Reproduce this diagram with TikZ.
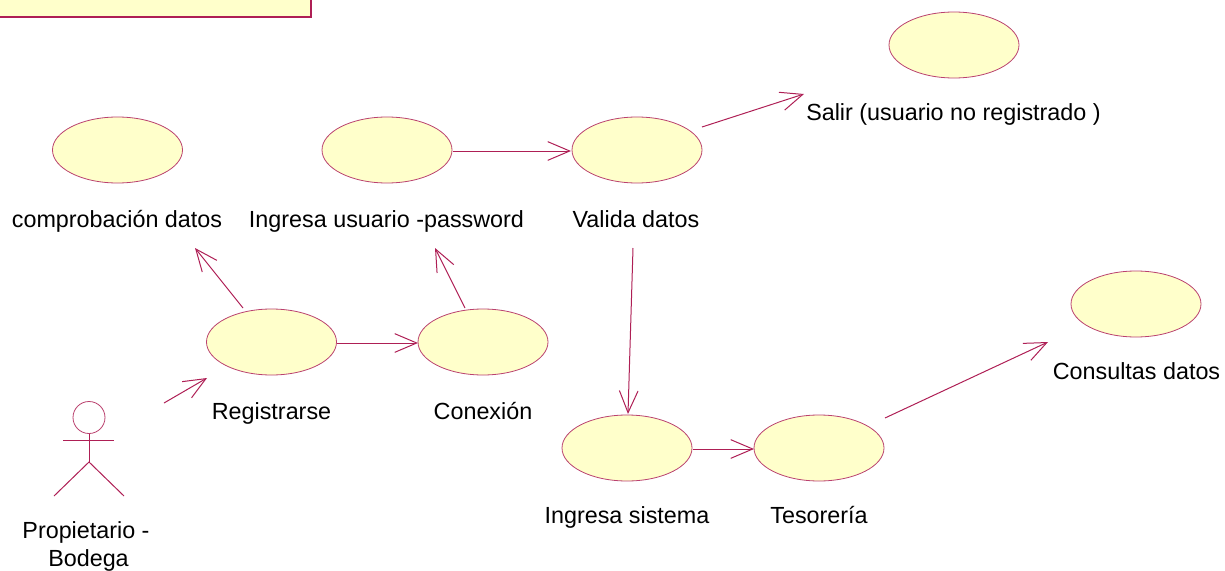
\documentclass[tikz,border=0pt]{standalone}
\usepackage{fontspec}
\setmainfont{Liberation Sans}
\usetikzlibrary{arrows.meta,shapes.geometric}
\definecolor{umlline}{HTML}{AE1F55}
\definecolor{umlfill}{HTML}{FFFFCB}
\tikzset{
  x=0.75pt,y=-0.75pt,
  usecase/.style={draw=umlline!85!white,fill=umlfill,line width=0.6pt,shape=ellipse,minimum width=97.5pt,minimum height=49.5pt,inner sep=0pt},
  txt/.style={font=\fontsize{15}{21}\selectfont,text=black,inner sep=0pt,anchor=base,scale=1.167},
  flow/.style={draw=umlline,line width=0.75pt,-{Straight Barb[length=16.5pt,width=14pt,line width=0.75pt]}},
  stick/.style={draw=umlline,line width=0.75pt},
}
\begin{document}
\begin{tikzpicture}
\useasboundingbox (0,0) rectangle (1225,571);
% note box
\path[fill=umlfill,draw=umlline,line width=1.5pt] (-5,-10) rectangle (311,17);
% use cases
\node[usecase] (ucComp) at (117.5,150) {};
\node[usecase] (ucUser) at (387,150) {};
\node[usecase] (ucValida) at (637,150) {};
\node[usecase] (ucSalir) at (954,45) {};
\node[usecase] (ucReg) at (271.5,342) {};
\node[usecase] (ucCon) at (483,342) {};
\node[usecase] (ucSis) at (627,448) {};
\node[usecase] (ucTes) at (819,448) {};
\node[usecase] (ucCons) at (1136,304) {};
% labels
\node[txt] (lComp) at (117,227) {comprobación datos};
\node[txt] (lUser) at (386.5,227) {Ingresa usuario -password};
\node[txt] (lValida) at (636,227) {Valida datos};
\node[txt] (lSalir) at (953.5,120) {Salir (usuario no registrado )};
\node[txt] (lReg) at (271.5,419) {Registrarse};
\node[txt] (lCon) at (483,419) {Conexión};
\node[txt] (lSis) at (627,523) {Ingresa sistema};
\node[txt] (lTes) at (819,523) {Tesorería};
\node[txt] (lCons) at (1136.5,379) {Consultas datos};
\node[txt] (lActorA) at (86,538) {Propietario -};
\node[txt] (lActorB) at (88.5,566) {Bodega};
% actor
\node[draw=umlline!85!white,fill=white,line width=0.6pt,shape=circle,minimum size=24pt,inner sep=0pt] (head) at (89,417.5) {};
\coordinate (hip) at (89,462);
\coordinate (armL) at (63,440);
\coordinate (armR) at (114,440);
\coordinate (footL) at (54,496);
\coordinate (footR) at (124,496);
\draw[stick] (head.south) -- (hip);
\draw[stick] (armL) -- (armR);
\draw[stick] (footL) -- (hip) -- (footR);
% connector ends
\coordinate (a1s) at (164,403); \coordinate (a1e) at (207,378);
\coordinate (a2s) at (243,308); \coordinate (a2e) at (195,248);
\coordinate (a3s) at (337,343); \coordinate (a3e) at (418,343);
\coordinate (a4s) at (465,308); \coordinate (a4e) at (435,248);
\coordinate (a5s) at (453,151); \coordinate (a5e) at (571,151);
\coordinate (a6s) at (702,127); \coordinate (a6e) at (804,94);
\coordinate (a7s) at (633,248); \coordinate (a7e) at (628,414);
\coordinate (a8s) at (693,449); \coordinate (a8e) at (754,449);
\coordinate (a9s) at (885,418); \coordinate (a9e) at (1048,342);
\draw[flow] (a1s) -- (a1e);
\draw[flow] (a2s) -- (a2e);
\draw[flow] (a3s) -- (a3e);
\draw[flow] (a4s) -- (a4e);
\draw[flow] (a5s) -- (a5e);
\draw[flow] (a6s) -- (a6e);
\draw[flow] (a7s) -- (a7e);
\draw[flow] (a8s) -- (a8e);
\draw[flow] (a9s) -- (a9e);
\end{tikzpicture}
\end{document}
